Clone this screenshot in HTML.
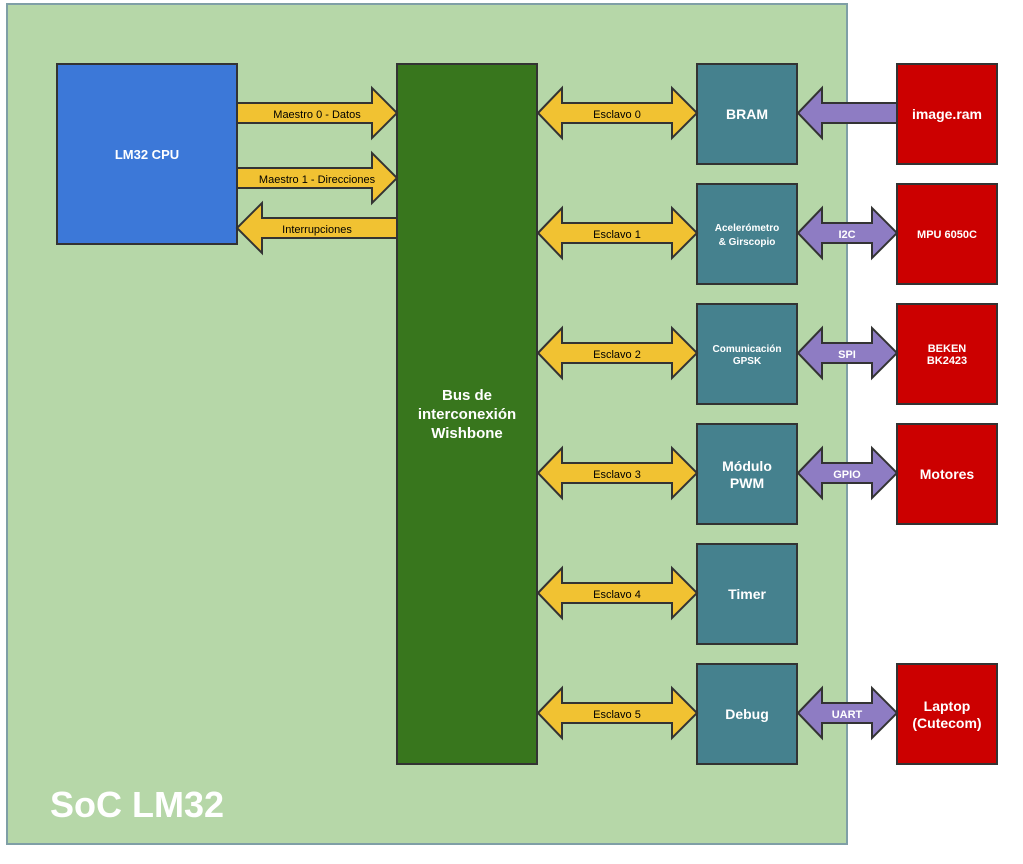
<!DOCTYPE html>
<html><head><meta charset="utf-8"><style>
body{margin:0;background:#fff}
svg{display:block}
text{font-family:"Liberation Sans",sans-serif}
</style></head><body>
<svg width="1023" height="864" viewBox="0 0 1023 864" xmlns="http://www.w3.org/2000/svg">
<rect x="7" y="4" width="840" height="840" fill="#b6d7a8" stroke="#7f9fa6" stroke-width="2"/>
<g stroke="#333" stroke-width="2">
<rect x="57" y="64" width="180" height="180" fill="#3c78d8"/>
<rect x="397" y="64" width="140" height="700" fill="#38761d"/>
<g fill="#45818e">
<rect x="697" y="64" width="100" height="100"/>
<rect x="697" y="184" width="100" height="100"/>
<rect x="697" y="304" width="100" height="100"/>
<rect x="697" y="424" width="100" height="100"/>
<rect x="697" y="544" width="100" height="100"/>
<rect x="697" y="664" width="100" height="100"/>
</g>
<g fill="#cc0000">
<rect x="897" y="64" width="100" height="100"/>
<rect x="897" y="184" width="100" height="100"/>
<rect x="897" y="304" width="100" height="100"/>
<rect x="897" y="424" width="100" height="100"/>
<rect x="897" y="664" width="100" height="100"/>
</g>
<g fill="#f1c232">
<polygon points="237,103 372,103 372,88 397,113 372,138 372,123 237,123"/>
<polygon points="237,168 372,168 372,153 397,178 372,203 372,188 237,188"/>
<polygon points="397,218 262,218 262,203 237,228 262,253 262,238 397,238"/>
<polygon points="538,113 562,88 562,103 672,103 672,88 697,113 672,138 672,123 562,123 562,138"/>
<polygon points="538,233 562,208 562,223 672,223 672,208 697,233 672,258 672,243 562,243 562,258"/>
<polygon points="538,353 562,328 562,343 672,343 672,328 697,353 672,378 672,363 562,363 562,378"/>
<polygon points="538,473 562,448 562,463 672,463 672,448 697,473 672,498 672,483 562,483 562,498"/>
<polygon points="538,593 562,568 562,583 672,583 672,568 697,593 672,618 672,603 562,603 562,618"/>
<polygon points="538,713 562,688 562,703 672,703 672,688 697,713 672,738 672,723 562,723 562,738"/>
</g>
<g fill="#8e7cc3">
<polygon points="897,103 822,103 822,88 798,113 822,138 822,123 897,123"/>
<polygon points="798,233 822,208 822,223 872,223 872,208 897,233 872,258 872,243 822,243 822,258"/>
<polygon points="798,353 822,328 822,343 872,343 872,328 897,353 872,378 872,363 822,363 822,378"/>
<polygon points="798,473 822,448 822,463 872,463 872,448 897,473 872,498 872,483 822,483 822,498"/>
<polygon points="798,713 822,688 822,703 872,703 872,688 897,713 872,738 872,723 822,723 822,738"/>
</g>
</g>
<g font-size="11" fill="#000" text-anchor="middle">
<text x="317" y="118">Maestro 0 - Datos</text>
<text x="317" y="183">Maestro 1 - Direcciones</text>
<text x="317" y="233">Interrupciones</text>
<text x="617" y="118">Esclavo 0</text>
<text x="617" y="238">Esclavo 1</text>
<text x="617" y="358">Esclavo 2</text>
<text x="617" y="478">Esclavo 3</text>
<text x="617" y="598">Esclavo 4</text>
<text x="617" y="718">Esclavo 5</text>
</g>
<g fill="#fff" font-weight="bold" text-anchor="middle">
<text x="147" y="159" font-size="13">LM32 CPU</text>
<text x="467" y="400" font-size="15">Bus de</text>
<text x="467" y="419" font-size="15">interconexión</text>
<text x="467" y="438" font-size="15">Wishbone</text>
<text x="747" y="119" font-size="14">BRAM</text>
<text x="747" y="231" font-size="10">Acelerómetro</text>
<text x="747" y="245" font-size="10">&amp; Girscopio</text>
<text x="747" y="352" font-size="10">Comunicación</text>
<text x="747" y="364" font-size="10">GPSK</text>
<text x="747" y="471" font-size="14">Módulo</text>
<text x="747" y="488" font-size="14">PWM</text>
<text x="747" y="599" font-size="14">Timer</text>
<text x="747" y="719" font-size="14">Debug</text>
<text x="947" y="119" font-size="14">image.ram</text>
<text x="947" y="238" font-size="11">MPU 6050C</text>
<text x="947" y="352" font-size="11">BEKEN</text>
<text x="947" y="364" font-size="11">BK2423</text>
<text x="947" y="479" font-size="14">Motores</text>
<text x="947" y="711" font-size="14">Laptop</text>
<text x="947" y="728" font-size="14">(Cutecom)</text>
<text x="847" y="238" font-size="11">I2C</text>
<text x="847" y="358" font-size="11">SPI</text>
<text x="847" y="478" font-size="11">GPIO</text>
<text x="847" y="718" font-size="11">UART</text>
<text x="137" y="817" font-size="36" text-anchor="middle">SoC LM32</text>
</g>
</svg>
</body></html>
